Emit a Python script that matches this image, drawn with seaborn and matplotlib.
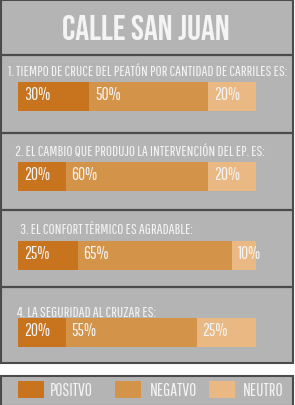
import matplotlib
matplotlib.use("Agg")
import matplotlib.pyplot as plt
from matplotlib.patches import Rectangle
from matplotlib.lines import Line2D
import pandas as pd
import seaborn as sns

title = "CALLE SAN JUAN"
questions = [
    "1. TIEMPO DE CRUCE DEL PEATÓN POR CANTIDAD DE CARRILES ES:",
    "2. EL CAMBIO QUE PRODUJO LA INTERVENCIÓN DEL EP. ES:",
    "3. EL CONFORT TÉRMICO ES AGRADABLE:",
    "4. LA SEGURIDAD AL CRUZAR ES:",
]
positivo = [30, 20, 25, 20]
negativo = [50, 60, 65, 55]
neutro = [20, 20, 10, 25]
categories = ["POSITVO", "NEGATVO", "NEUTRO"]
colors = ["#c8741f", "#d39449", "#eab983"]

W, H = 295, 406
BG = "#b4b4b4"
EDGE = "#4b4b4b"
TXT = "#f4f4f4"

sns.set_theme(style="white")
BODY = ["Pathway Gothic One", "DejaVu Sans"]
HEAD = ["Bebas Neue", "Oswald", "DejaVu Sans"]
plt.rcParams["font.family"] = BODY


def fx(px):
    return px / W


def fy(py):
    return 1 - py / H


fig = plt.figure(figsize=(W / 100, H / 100), dpi=100, facecolor="white")

# boxes (main panel + legend strip), kept behind the bar axes
fig.patches.append(Rectangle((fx(1), fy(364)), fx(292), 363 / H, transform=fig.transFigure,
                             facecolor=BG, edgecolor=EDGE, lw=1.5, zorder=-2))
fig.patches.append(Rectangle((fx(1), fy(407)), fx(292), 30 / H, transform=fig.transFigure,
                             facecolor=BG, edgecolor=EDGE, lw=1.5, zorder=-2))
for yy in [56, 134, 211, 288]:
    fig.lines.append(Line2D([fx(1), fx(293)], [fy(yy), fy(yy)], transform=fig.transFigure,
                            color=EDGE, lw=1.6, zorder=-1))

fig.text(fx(146), fy(28), title, family=HEAD, fontsize=25,
         color=TXT, ha="center", va="center")

q_x = [8, 15, 20, 17]
q_y = [72, 152, 230, 313]
bar_top = [83, 163, 242, 319]
bar_h = 29

df = pd.DataFrame({"pregunta": questions, "POSITVO": positivo,
                   "NEGATVO": negativo, "NEUTRO": neutro})

for i, row in df.iterrows():
    fig.text(fx(q_x[i]), fy(q_y[i]), row["pregunta"], fontsize=10.8, color=TXT,
             ha="left", va="center")

    ax = fig.add_axes([fx(18), fy(bar_top[i] + bar_h), fx(238), bar_h / H])
    ax.patch.set_alpha(0)
    vals = [row[c] for c in categories]
    cum = pd.Series(vals).cumsum().tolist()
    # stacked bar: draw the longest segment first, overlap the rest
    for c, end, col in reversed(list(zip(categories, cum, colors))):
        sns.barplot(x=[end], y=[row["pregunta"]], color=col, saturation=1,
                    width=1, orient="h", ax=ax, edgecolor="none", linewidth=0)
    starts = [0] + cum[:-1]
    for s, v in zip(starts, vals):
        ax.annotate(f"{v}%", xy=(s, 0), xytext=(4.3, 1.5), textcoords="offset points",
                    fontsize=12.5, color=TXT, ha="left", va="center")
    ax.set_xlim(0, 100)
    ax.set_ylim(0.5, -0.5)
    ax.axis("off")

# legend strip
sw_x = [18, 115, 209]
lab_x = [50, 150, 243]
for c, col, sx, lx in zip(categories, colors, sw_x, lab_x):
    fig.patches.append(Rectangle((fx(sx), fy(399)), fx(26), 17 / H, transform=fig.transFigure,
                                 facecolor=col, edgecolor="none"))
    fig.text(fx(lx), fy(391), c, fontsize=12.5, color=TXT, ha="left", va="center")

fig.savefig("out.png", dpi=100, facecolor="white")
